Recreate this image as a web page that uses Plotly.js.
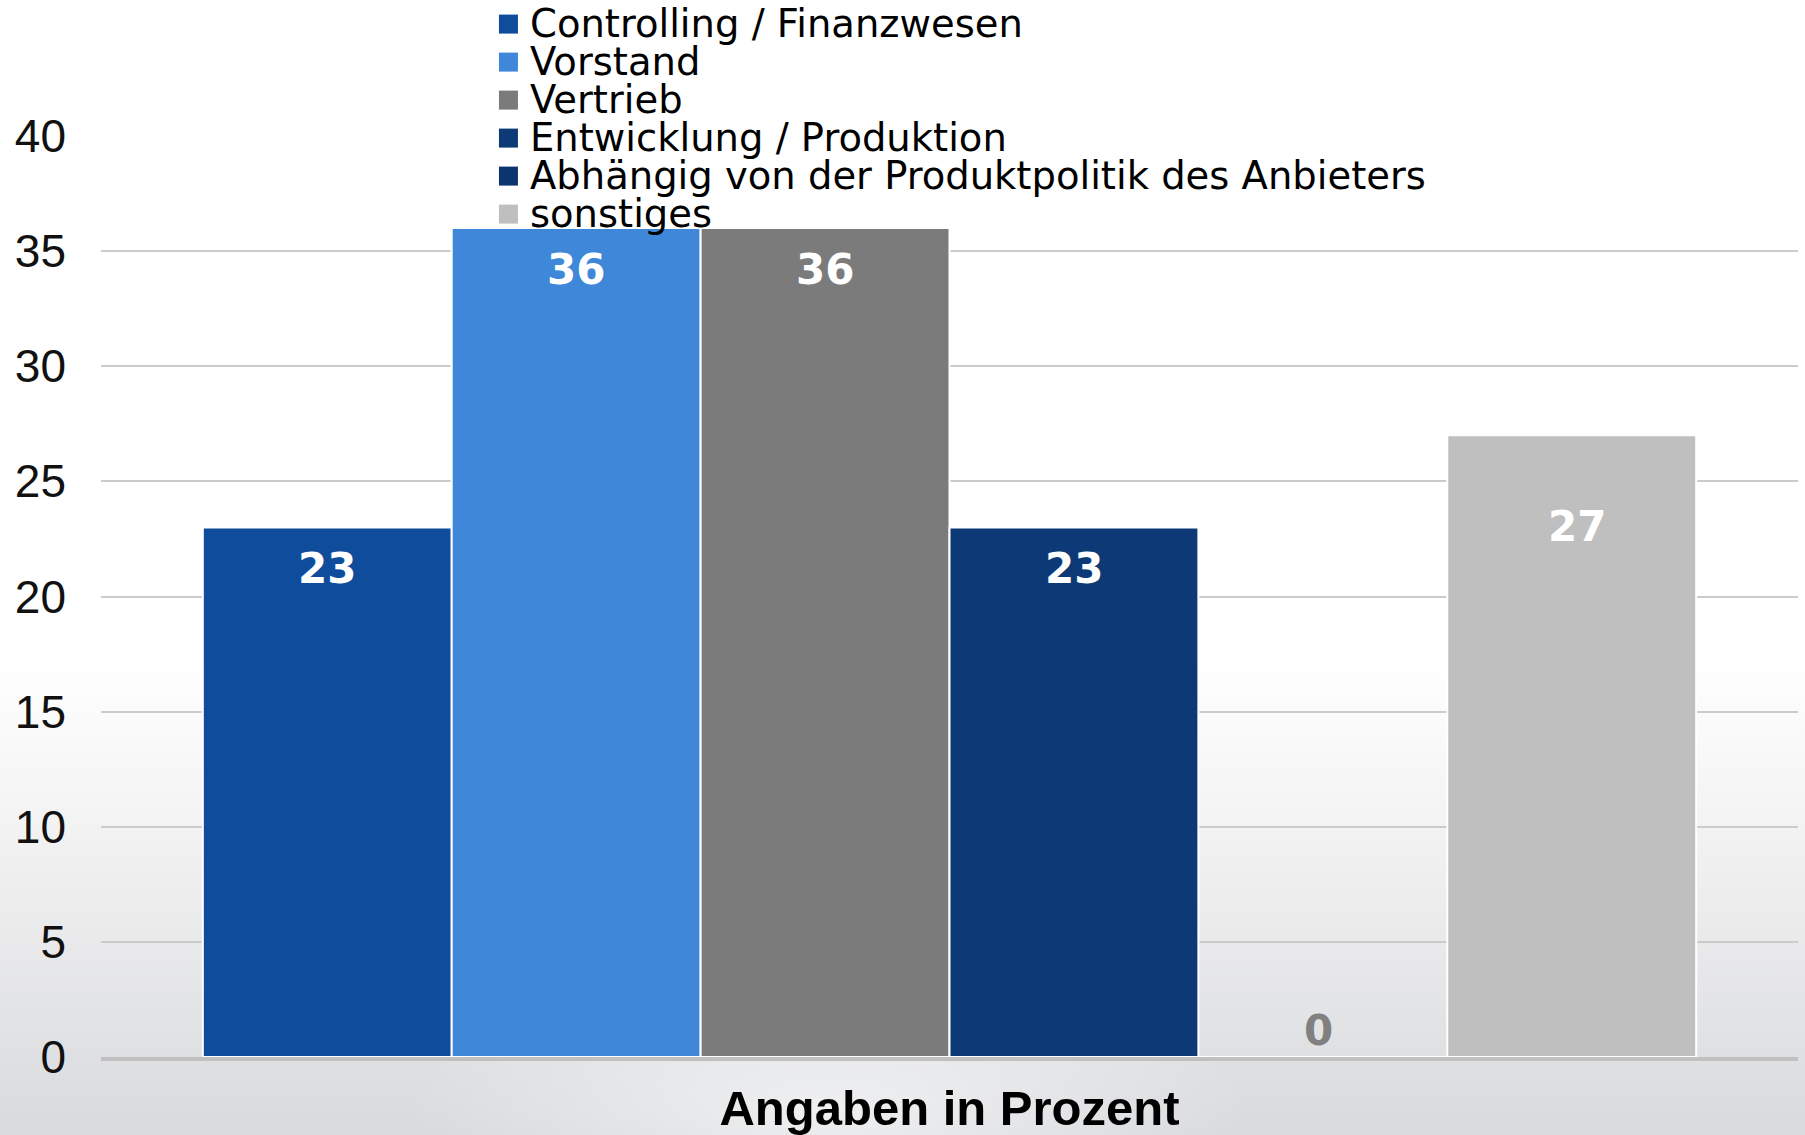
<!DOCTYPE html>
<html>
<head>
<meta charset="utf-8">
<script src="https://cdn.plot.ly/plotly-3.0.1.min.js"></script>
<style>
  html, body { margin: 0; padding: 0; }
  #chart {
    width: 1805px; height: 1135px;
    background:
      radial-gradient(ellipse 420px 140px at 830px 1110px, rgba(255,255,255,0.55), rgba(255,255,255,0) 100%),
      linear-gradient(to bottom, #ffffff 0%, #ffffff 58%, #f7f7f8 68%, #ededee 79%, #e2e3e5 90%, #d8dadd 100%);
  }
</style>
</head>
<body>
<div id="chart"></div>
<script>
// ---- data ----
const categories = ['Angaben in Prozent'];
const seriesNames = [
  'Controlling / Finanzwesen',
  'Vorstand',
  'Vertrieb',
  'Entwicklung / Produktion',
  'Abhängig von der Produktpolitik des Anbieters',
  'sonstiges'
];
const seriesValues = [23, 36, 36, 23, 0, 27];
const yTickVals = [0, 5, 10, 15, 20, 25, 30, 35, 40];
const yTickText = ['0', '5', '10', '15', '20', '25', '30', '35', '40'];

// ---- styles ----
const seriesColors = ['#104c9c', '#3f87d9', '#7b7b7b', '#0d3a76', '#0c3470', '#bfbfbf'];
const labelColors = ['#ffffff', '#ffffff', '#ffffff', '#ffffff', '#808080', '#ffffff'];
const labelShift = [-41, -41, -41, -41, 27, -91];
const labelXShift = [0, 0, 0, 0, -4, 5];
const BARGAP = 0.12;

const traces = seriesNames.map((name, i) => ({
  type: 'bar',
  name: name,
  x: categories,
  y: [seriesValues[i]],
  marker: { color: seriesColors[i], line: { color: '#ffffff', width: 2 } },
  hovertemplate: name + ': %{y}<extra></extra>'
}));

const n = seriesNames.length;
const slot = (1 - BARGAP) / n;
const annotations = [];
// value labels on bars
seriesValues.forEach((v, i) => {
  annotations.push({
    xref: 'x', yref: 'y',
    x: (i - (n - 1) / 2) * slot,
    y: v,
    text: '<b>' + v + '</b>',
    showarrow: false,
    yanchor: 'middle',
    yshift: labelShift[i],
    xshift: labelXShift[i],
    font: { family: 'DejaVu Sans', size: 42, color: labelColors[i] }
  });
});
// custom legend (tight line spacing as in the reference)
const legendX = 0.2345;   // paper x of the swatches
const legendTop = 1.1215; // paper y of first row centre
const rowStep = 38 / 921;
const shapes = [];
seriesNames.forEach((name, i) => {
  const yy = legendTop - i * rowStep;
  shapes.push({
    type: 'rect', xref: 'paper', yref: 'paper',
    xsizemode: 'pixel', ysizemode: 'pixel',
    xanchor: legendX, yanchor: yy,
    x0: 0, x1: 19, y0: -9.5, y1: 9.5,
    fillcolor: seriesColors[i], line: { width: 0 }, layer: 'below'
  });
  annotations.push({
    xref: 'paper', yref: 'paper',
    x: legendX, y: yy,
    xanchor: 'left', yanchor: 'middle',
    xshift: 30, yshift: 1,
    borderpad: 0,
    text: name, showarrow: false,
    font: { family: 'DejaVu Sans', size: 38.5, color: '#000000' }
  });
});

const layout = {
  width: 1805, height: 1135,
  margin: { l: 101, r: 7, t: 136, b: 78, autoexpand: false },
  paper_bgcolor: 'rgba(0,0,0,0)',
  plot_bgcolor: 'rgba(0,0,0,0)',
  showlegend: false,
  barmode: 'group',
  bargap: BARGAP,
  bargroupgap: 0,
  xaxis: {
    type: 'category',
    showticklabels: false,
    showgrid: false,
    zeroline: false,
    showline: true,
    linecolor: '#c0c0c0',
    linewidth: 4,
    layer: 'below traces',
    automargin: false,
    fixedrange: true,
    title: {
      text: '<b>Angaben in Prozent</b>',
      standoff: 34,
      font: { family: 'Liberation Sans', size: 49, color: '#000000' }
    }
  },
  yaxis: {
    range: [0, 40],
    tickmode: 'array',
    tickvals: yTickVals,
    ticktext: yTickText,
    ticks: '',
    ticklabelstandoff: 34,
    tickfont: { family: 'Liberation Sans', size: 46, color: '#111111' },
    showgrid: true,
    gridcolor: '#cbcbcb',
    gridwidth: 2,
    zeroline: false,
    showline: false,
    automargin: false,
    fixedrange: true
  },
  annotations: annotations,
  shapes: shapes
};

Plotly.newPlot('chart', traces, layout, { displayModeBar: false, staticPlot: true });
</script>
</body>
</html>
